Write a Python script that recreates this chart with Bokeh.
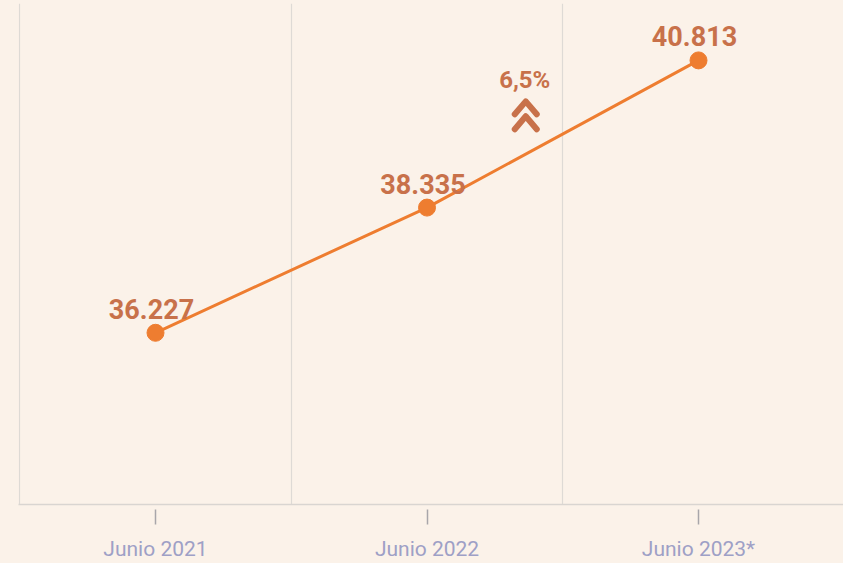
from bokeh.plotting import figure
from bokeh.models import ColumnDataSource, FixedTicker, Range1d
from bokeh.core.properties import value
from bokeh.embed import file_html
from bokeh.resources import INLINE

categories = ["Junio 2021", "Junio 2022", "Junio 2023*"]
values = [36227, 38335, 40813]
growth_label = "6,5%"

BG = "#FBF2E9"
LINE = "#EE7D30"
LABEL = "#C8714A"
AXIS_TXT = "#9EA0C6"

xs = list(range(len(categories)))
labels = [f"{v:,}".replace(",", ".") for v in values]
src = ColumnDataSource(dict(x=xs, y=values, label=labels))

p = figure(width=843, height=563, output_backend="svg", toolbar_location=None,
           x_range=Range1d(-0.5046, 2.534),
           y_range=Range1d(33336, 41771),
           min_border_left=18, min_border_right=0, min_border_top=3, min_border_bottom=58)
p.background_fill_color = BG
p.border_fill_color = BG
p.outline_line_color = None

# axes
p.yaxis.visible = False
p.ygrid.grid_line_color = None
p.xaxis.ticker = FixedTicker(ticks=xs)
p.xaxis.major_label_overrides = {i: c for i, c in zip(xs, categories)}
p.xaxis.axis_line_color = "#D9D5D1"
p.xaxis.axis_line_width = 1.5
p.xaxis.major_tick_in = -5
p.xaxis.major_tick_out = 20
p.xaxis.major_tick_line_color = "#A8A6AA"
p.xaxis.major_tick_line_width = 1.5
p.xaxis.minor_tick_line_color = None
p.xaxis.major_label_standoff = 12
p.xaxis.major_label_text_color = AXIS_TXT
p.xaxis.major_label_text_font = "Roboto"
p.xaxis.major_label_text_font_size = "21px"
p.xgrid.ticker = FixedTicker(ticks=[i - 0.5 for i in range(len(categories))])
p.xgrid.grid_line_color = "#DEDAD5"
p.xgrid.grid_line_width = 1.2

# line + points
p.line("x", "y", source=src, line_color=LINE, line_width=3)
p.scatter("x", "y", source=src, size=17, fill_color=LINE, line_color=LINE)
p.text("x", "y", text="label", source=src, text_color=LABEL,
       text_font=value("Roboto"), text_font_style="bold", text_font_size="27px",
       text_align="center", text_baseline="alphabetic", x_offset=-4, y_offset=-24)

# growth annotation
ax, ay = 1.36, 40477
p.text([ax], [ay], text=[growth_label], text_color=LABEL,
       text_font=value("Roboto"), text_font_style="bold", text_font_size="24px",
       text_align="center", text_baseline="middle")
px_x = 1 / 271.5
px_y = 1 / 0.0595
cx = ax + 1 * px_x
chev_xs, chev_ys = [], []
for top in (101, 116):
    apex_y = ay - (top - 80) * px_y
    low_y = apex_y - 13 * px_y
    chev_xs.append([cx - 11 * px_x, cx, cx + 11 * px_x])
    chev_ys.append([low_y, apex_y, low_y])
p.multi_line(chev_xs, chev_ys, line_color=LABEL, line_width=6,
             line_cap="round", line_join="round")

html = file_html(p, INLINE)
html = html.replace("<head>", "<head><style>body{background:#FBF2E9;}</style>", 1)
open("out.html", "w").write(html)
